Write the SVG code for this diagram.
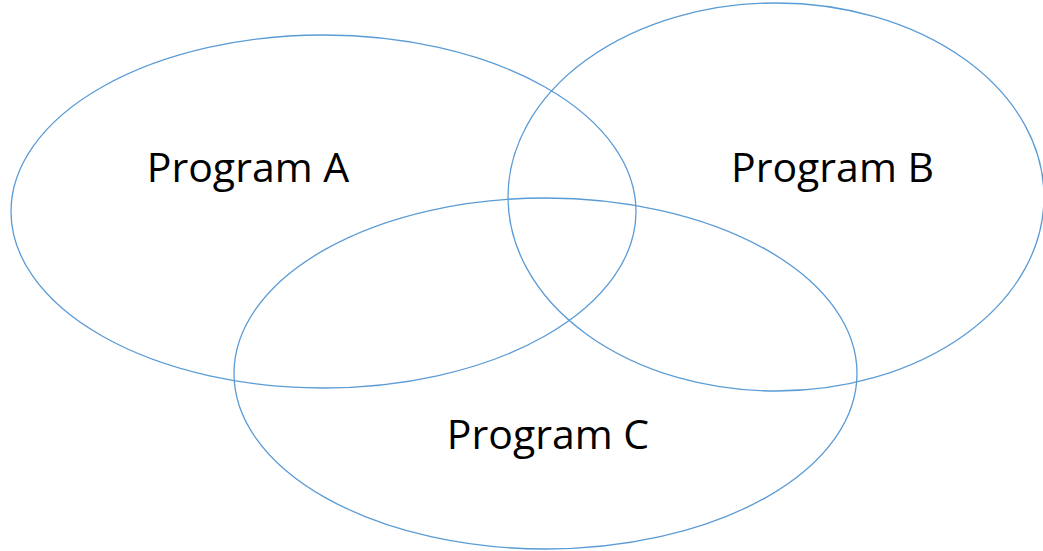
<svg xmlns="http://www.w3.org/2000/svg" width="1043" height="551" viewBox="0 0 1043 551">
<style>
.set{fill:none;stroke:#5B9BD5;stroke-width:1.3}
.lbl{font-family:"Open Sans","Liberation Sans",sans-serif;font-size:41px;fill:#000;text-anchor:middle}
</style>
<rect width="1043" height="551" fill="#fff"/>
<g id="programA"><ellipse class="set" cx="323.5" cy="211.5" rx="312.5" ry="176.5"/><text class="lbl" x="248" y="182">Program A</text></g>
<g id="programB"><ellipse class="set" cx="776" cy="197" rx="268" ry="194"/><text class="lbl" x="832.5" y="182">Program B</text></g>
<g id="programC"><ellipse class="set" cx="545.5" cy="373.5" rx="311.5" ry="175.5"/><text class="lbl" x="548" y="449">Program C</text></g>
<g id="connectors"/>
</svg>
